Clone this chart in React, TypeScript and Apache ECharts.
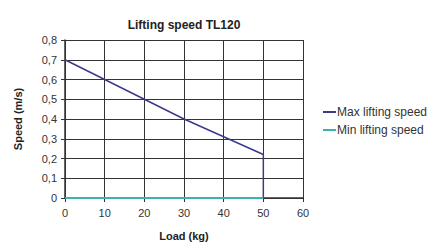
import React, { useEffect, useRef } from "react";
import * as echarts from "echarts";

const maxLoad = [0, 10, 20, 30, 40, 50, 50];
const maxSpeed = [0.7, 0.6, 0.5, 0.4, 0.31, 0.22, 0];
const minLoad = [0, 50];
const minSpeed = [0, 0];
const seriesNames = ["Max lifting speed", "Min lifting speed"];

export default function App() {
  const ref = useRef<HTMLDivElement>(null);
  useEffect(() => {
    const chart = echarts.init(ref.current!, null, { renderer: "svg" });
    chart.setOption({
      animation: false,
      backgroundColor: "#ffffff",
      title: {
        text: "Lifting speed TL120",
        left: 179,
        top: 14,
        textAlign: "center",
        textStyle: { fontFamily: "Arial, Liberation Sans", fontSize: 12, fontWeight: "bold", color: "#222" },
      },
      legend: {
        orient: "vertical",
        left: 318,
        top: 101,
        itemWidth: 13,
        itemHeight: 2,
        itemGap: 6,
        icon: "rect",
        textStyle: { fontFamily: "Arial, Liberation Sans", fontSize: 12, color: "#333", padding: [0, 0, 0, -4] },
        data: seriesNames,
      },
      grid: { left: 65, right: 131, top: 40, bottom: 45 },
      xAxis: {
        type: "value",
        min: 0,
        max: 60,
        interval: 10,
        name: "Load (kg)",
        nameLocation: "middle",
        nameGap: 32,
        nameTextStyle: { fontFamily: "Arial, Liberation Sans", fontSize: 11, fontWeight: "bold", color: "#222" },
        axisLine: { lineStyle: { color: "#333", width: 1.5 } },
        axisTick: { show: true, length: 4, lineStyle: { color: "#333" } },
        axisLabel: { fontFamily: "Arial, Liberation Sans", fontSize: 11, color: "#333", margin: 9 },
        splitLine: { show: true, lineStyle: { color: "#333", width: 1 } },
      },
      yAxis: {
        type: "value",
        min: 0,
        max: 0.8,
        interval: 0.1,
        name: "Speed (m/s)",
        nameLocation: "middle",
        nameGap: 42,
        nameTextStyle: { fontFamily: "Arial, Liberation Sans", fontSize: 11, fontWeight: "bold", color: "#222" },
        axisLine: { show: true, lineStyle: { color: "#333", width: 1.5 } },
        axisTick: { show: true, length: 4, lineStyle: { color: "#333" } },
        axisLabel: {
          fontFamily: "Arial, Liberation Sans",
          fontSize: 11,
          color: "#333",
          margin: 8,
          formatter: (v: number) => (v === 0 ? "0" : v.toFixed(1).replace(".", ",")),
        },
        splitLine: { show: true, lineStyle: { color: "#333", width: 1 } },
      },
      series: [
        {
          name: seriesNames[0],
          type: "line",
          symbol: "none",
          data: maxLoad.map((x, i) => [x, maxSpeed[i]]),
          lineStyle: { color: "#3b3a8a", width: 1.5 },
          itemStyle: { color: "#3b3a8a" },
          z: 3,
        },
        {
          name: seriesNames[1],
          type: "line",
          symbol: "none",
          data: minLoad.map((x, i) => [x, minSpeed[i]]),
          lineStyle: { color: "#3bb3aa", width: 2 },
          itemStyle: { color: "#3bb3aa" },
          z: 4,
        },
      ],
    });
    return () => chart.dispose();
  }, []);
  return <div ref={ref} style={{ width: 434, height: 246, position: "absolute", left: 0, top: 0 }} />;
}
